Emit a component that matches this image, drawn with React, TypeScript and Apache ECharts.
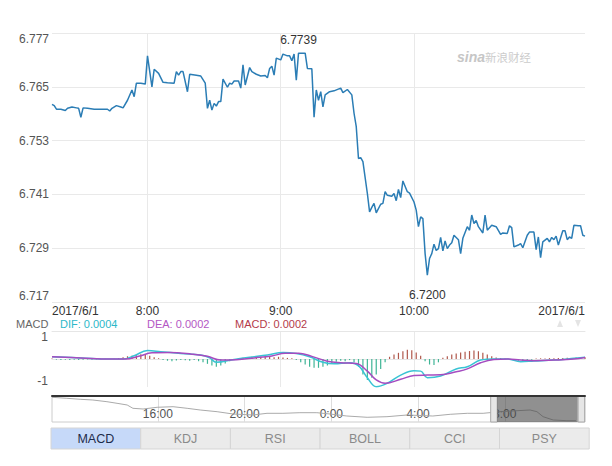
import React, { useEffect, useRef } from "react";
import * as echarts from "echarts";

// ---------- data ----------
const dateLabel = "2017/6/1";
const priceTicks = [6.717, 6.729, 6.741, 6.753, 6.765, 6.777];
const hourTicks = ["8:00", "9:00", "10:00"];
const viewRange = ["7:17", "11:17"];
const extremeLabels = ["6.7739", "6.7200"];

const priceTimes = [
  "7:17", "7:18", "7:19", "7:21", "7:23", "7:24", "7:26", "7:28", "7:29", "7:30",
  "7:31", "7:33", "7:36", "7:39", "7:42", "7:43", "7:44", "7:46", "7:48", "7:49",
  "7:51", "7:53", "7:54", "7:55", "7:57", "7:59", "8:00", "8:02", "8:03", "8:05",
  "8:07", "8:09", "8:12", "8:13", "8:14", "8:15", "8:16", "8:18", "8:19", "8:22",
  "8:24", "8:26", "8:27", "8:28", "8:29", "8:30", "8:31", "8:32", "8:33", "8:34",
  "8:36", "8:37", "8:38", "8:39", "8:41", "8:42", "8:43", "8:44", "8:46", "8:47",
  "8:49", "8:51", "8:53", "8:54", "8:55", "8:56", "8:57", "8:58", "9:00", "9:01",
  "9:03", "9:04", "9:05", "9:06", "9:07", "9:08", "9:11", "9:12", "9:14", "9:15",
  "9:16", "9:17", "9:18", "9:19", "9:20", "9:22", "9:24", "9:27", "9:28", "9:30",
  "9:32", "9:33", "9:34", "9:35", "9:36", "9:37", "9:39", "9:40", "9:41", "9:42",
  "9:43", "9:45", "9:46", "9:47", "9:48", "9:50", "9:51", "9:52", "9:53", "9:54",
  "9:55", "9:57", "9:58", "10:00", "10:01", "10:02", "10:03", "10:04", "10:05", "10:06",
  "10:07", "10:08", "10:09", "10:10", "10:11", "10:12", "10:13", "10:14", "10:15", "10:16",
  "10:17", "10:18", "10:20", "10:21", "10:22", "10:24", "10:25", "10:26", "10:27", "10:28",
  "10:29", "10:31", "10:32", "10:33", "10:35", "10:37", "10:39", "10:40", "10:42", "10:43",
  "10:44", "10:45", "10:47", "10:48", "10:49", "10:51", "10:52", "10:54", "10:55", "10:56",
  "10:57", "10:58", "10:59", "11:00", "11:01", "11:02", "11:03", "11:04", "11:05", "11:07",
  "11:08", "11:09", "11:10", "11:11", "11:12", "11:14", "11:15", "11:16", "11:17",
];
const prices = [
  6.7611, 6.7608, 6.76, 6.76, 6.7597, 6.7602, 6.7605, 6.7603, 6.7602, 6.7582,
  6.7603, 6.7602, 6.76, 6.76, 6.76, 6.7596, 6.7602, 6.7608, 6.7605, 6.7603,
  6.762, 6.7643, 6.7628, 6.7658, 6.7658, 6.7656, 6.7719, 6.765, 6.7689, 6.768,
  6.766, 6.7659, 6.7658, 6.7684, 6.7676, 6.7684, 6.7684, 6.7639, 6.7678, 6.7676,
  6.7674, 6.7658, 6.7602, 6.762, 6.7598, 6.7613, 6.7607, 6.7617, 6.7617, 6.7667,
  6.7649, 6.7658, 6.7656, 6.7663, 6.7663, 6.7647, 6.7699, 6.7654, 6.7693, 6.7684,
  6.7678, 6.7674, 6.7675, 6.767, 6.7691, 6.7696, 6.7676, 6.7714, 6.771, 6.7723,
  6.7719, 6.7719, 6.7708, 6.7723, 6.7665, 6.7725, 6.7725, 6.7691, 6.769, 6.7582,
  6.7643, 6.762, 6.7639, 6.7605, 6.7632, 6.7639, 6.7641, 6.7647, 6.7637, 6.7644,
  6.7632, 6.7591, 6.7561, 6.749, 6.7492, 6.7483, 6.7412, 6.7371, 6.7381, 6.739,
  6.7369, 6.7388, 6.739, 6.7416, 6.7408, 6.7406, 6.7412, 6.7396, 6.7421, 6.7403,
  6.744, 6.7416, 6.7413, 6.7393, 6.7375, 6.7338, 6.736, 6.7356, 6.7278, 6.723,
  6.7267, 6.7278, 6.7299, 6.7285, 6.7289, 6.7314, 6.7284, 6.7306, 6.7289, 6.7297,
  6.7302, 6.7319, 6.7309, 6.7278, 6.7312, 6.7338, 6.733, 6.7364, 6.7345, 6.7352,
  6.7338, 6.7324, 6.7364, 6.733, 6.7341, 6.7338, 6.7321, 6.7324, 6.7323, 6.734,
  6.7336, 6.7293, 6.7297, 6.73, 6.7291, 6.7319, 6.7326, 6.7326, 6.7287, 6.7315,
  6.7269, 6.7304, 6.7308, 6.7312, 6.7304, 6.7314, 6.7309, 6.7317, 6.7297, 6.7329,
  6.7329, 6.7309, 6.7315, 6.7312, 6.7341, 6.734, 6.734, 6.7319, 6.7317,
];

// MACD panel
const legendNames = ["DIF", "DEA", "MACD"];
const legendValues = ["0.0004", "0.0002", "0.0002"];
const macdAxisTicks = [-1, 1];
const macdAxisRange = [-1.27, 1.27];
const histStart = "7:17";
const histStepMinutes = 2;
const macdHist = [
  0.02, -0.03, -0.04, -0.03, -0.04,
  -0.03, -0.04, -0.03, -0.02, -0.03,
  -0.02, -0.01, 0.01, 0.0, 0.01,
  0.05, 0.08, 0.12, 0.15, 0.17,
  0.22, 0.2, 0.15, 0.08, 0.03,
  -0.05, -0.08, -0.1, -0.07, -0.05,
  -0.06, -0.08, -0.05, -0.1, -0.15,
  -0.22, -0.3, -0.35, -0.3, -0.2,
  -0.1, -0.03, 0.03, 0.06, 0.08,
  0.1, 0.08, 0.1, 0.12, 0.1,
  0.08, 0.1, 0.07, 0.05, 0.03,
  -0.05, -0.15, -0.25, -0.35, -0.4,
  -0.4, -0.35, -0.3, -0.2, -0.12,
  -0.08, -0.1, -0.05, -0.15, -0.35,
  -0.7, -0.95, -0.85, -0.7, -0.45,
  -0.15, 0.1, 0.2, 0.28, 0.35,
  0.42, 0.4, 0.3, 0.15, -0.1,
  -0.25, -0.27, -0.15, 0.06, 0.12,
  0.2, 0.25, 0.3, 0.33, 0.36,
  0.38, 0.35, 0.28, 0.2, 0.12,
  0.07, 0.04, 0.02, -0.02, -0.05,
  -0.08, -0.1, -0.06, -0.03, 0.02,
  0.03, 0.02, 0.04, 0.03, 0.05,
  0.04, 0.06, 0.05, 0.07, 0.06,
  0.08,
];
const difTimes = [
  "7:17", "7:30", "7:43", "7:49", "7:54", "8:00", "8:06", "8:15", "8:24", "8:28",
  "8:31", "8:39", "8:46", "8:54", "9:01", "9:07", "9:13", "9:19", "9:24", "9:31",
  "9:35", "9:39", "9:43", "9:48", "9:54", "10:00", "10:03", "10:06", "10:12", "10:19",
  "10:24", "10:30", "10:36", "10:42", "10:48", "10:54", "11:03", "11:12", "11:17",
];
const difValues = [
  0.1, 0.05, 0.0, 0.0, 0.15, 0.38, 0.33, 0.25, 0.18, 0.05,
  -0.15, -0.02, 0.08, 0.18, 0.3, 0.25, 0.1, -0.15, -0.22, -0.17,
  -0.3, -0.85, -1.26, -1.1, -0.73, -0.53, -0.55, -0.85, -0.77, -0.45,
  -0.35, -0.05, 0.0, 0.0, -0.12, -0.09, -0.05, 0.03, 0.08,
];
const deaTimes = [
  "7:17", "7:30", "7:43", "7:50", "7:56", "8:02", "8:10", "8:20", "8:27", "8:33",
  "8:40", "8:48", "8:56", "9:02", "9:08", "9:14", "9:21", "9:27", "9:34", "9:39",
  "9:43", "9:47", "9:54", "10:00", "10:06", "10:12", "10:19", "10:24", "10:30", "10:36",
  "10:42", "10:48", "10:54", "11:03", "11:12", "11:17",
];
const deaValues = [
  0.1, 0.05, 0.0, 0.0, 0.12, 0.28, 0.3, 0.22, 0.12, -0.05,
  -0.03, 0.05, 0.14, 0.26, 0.26, 0.12, -0.1, -0.17, -0.2, -0.55,
  -0.95, -1.1, -0.92, -0.75, -0.73, -0.72, -0.58, -0.45, -0.17, -0.02,
  0.0, -0.05, -0.08, -0.05, 0.0, 0.07,
];

// overview slider (last 24h)
const sliderRange = ["5/31 11:07", "6/1 11:42"];
const sliderTicks = ["5/31 16:00", "5/31 20:00", "6/1 0:00", "6/1 4:00", "6/1 8:00"];
const sliderWindow = ["6/1 7:39", "6/1 11:22"];
const sliderTimes = [
  "5/31 11:07", "5/31 11:48", "5/31 12:25", "5/31 13:00", "5/31 13:39", "5/31 14:07",
  "5/31 14:35", "5/31 14:51", "5/31 15:19", "5/31 15:58", "5/31 16:42", "5/31 17:21",
  "5/31 17:57", "5/31 18:44", "5/31 19:28", "5/31 20:23", "5/31 21:02", "5/31 21:46",
  "5/31 22:33", "5/31 23:20", "5/31 23:56", "6/1 0:43", "6/1 1:39", "6/1 2:34",
  "6/1 3:30", "6/1 4:41", "6/1 5:29", "6/1 6:16", "6/1 7:00", "6/1 7:47",
  "6/1 8:34", "6/1 9:10", "6/1 9:29", "6/1 9:46", "6/1 10:14", "6/1 10:52", "6/1 11:17",
];
const sliderPrices = [
  6.8198, 6.8157, 6.8117, 6.8088, 6.802, 6.7955,
  6.7887, 6.7753, 6.7725, 6.7794, 6.7818, 6.7753,
  6.7685, 6.7616, 6.7523, 6.7483, 6.7551, 6.7551,
  6.7576, 6.7576, 6.7523, 6.7442, 6.739, 6.7414,
  6.7483, 6.7442, 6.7511, 6.7551, 6.7551, 6.7616,
  6.7656, 6.7685, 6.7616, 6.7414, 6.7281, 6.7253, 6.7253,
];
const sliderPriceRange = [6.72, 6.825];

const tabs = ["MACD", "KDJ", "RSI", "BOLL", "CCI", "PSY"];
const activeTab = 0;

// ---------- helpers ----------
const toMin = (t: string) => {
  const [h, m] = t.split(":").map(Number);
  return h * 60 + m;
};
const dayMin = (s: string) => {
  const [d, t] = s.split(" ");
  return (d === "6/1" ? 1440 : 0) + toMin(t);
};

const FONT = '"Liberation Sans", Arial, sans-serif';

export default function App() {
  const ref = useRef<HTMLDivElement>(null);

  useEffect(() => {
    document.body.style.margin = "0";
    const chart = echarts.init(ref.current!, null, { renderer: "svg" });

    const base = priceTicks[0];
    const step = Number((priceTicks[1] - priceTicks[0]).toFixed(4));
    const span = Number((priceTicks[priceTicks.length - 1] - base).toFixed(4));
    const viewMin = toMin(viewRange[0]);
    const viewMax = toMin(viewRange[1]);
    const hourMins = hourTicks.map(toMin);
    const hourLabel = (v: number) => {
      const i = hourMins.indexOf(v);
      return i >= 0 ? hourTicks[i] : "";
    };

    const priceData = priceTimes.map((t, i) => [toMin(t), Number((prices[i] - base).toFixed(5))]);
    const histStartMin = toMin(histStart);
    const histData = macdHist.map((v, i) => [histStartMin + i * histStepMinutes, v]);
    const difData = difTimes.map((t, i) => [toMin(t), difValues[i]]);
    const deaData = deaTimes.map((t, i) => [toMin(t), deaValues[i]]);

    const sMin = dayMin(sliderRange[0]);
    const sMax = dayMin(sliderRange[1]);
    const sTicks = sliderTicks.map(dayMin);
    const sliderData = sliderTimes.map((t, i) => [dayMin(t), sliderPrices[i]]);
    const winL = dayMin(sliderWindow[0]);
    const winR = dayMin(sliderWindow[1]);
    const handleW = 18;

    const legendColors = ["#2cb8c9", "#b457c4", "#b43a4a"];
    const legendX = [60, 147, 235];
    const tabW = 89.7;
    const legendY = 323.5;

    const graphic: any[] = [
      {
        type: "text",
        x: 457,
        y: 57,
        style: { text: "sina", fill: "#c6c6c6", font: `italic bold 14px ${FONT}`, verticalAlign: "middle" },
      },
      {
        type: "text",
        x: 485,
        y: 57,
        style: { text: "新浪财经", fill: "#cccccc", font: '11.5px "Noto Sans CJK SC", sans-serif', verticalAlign: "middle" },
      },
      {
        type: "text",
        x: 16,
        y: legendY,
        style: { text: "MACD", fill: "#666", font: `11px ${FONT}`, verticalAlign: "middle" },
      },
      ...legendNames.map((n, i) => ({
        type: "text",
        x: legendX[i],
        y: legendY,
        style: {
          text: `${n}: ${legendValues[i]}`,
          fill: legendColors[i],
          font: `11px ${FONT}`,
          verticalAlign: "middle",
        },
      })),
      {
        type: "polygon",
        shape: { points: [[557, 327], [563, 327], [560, 320]] },
        style: { fill: "#e4e4e4" },
      },
      {
        type: "polygon",
        shape: { points: [[575, 320], [581, 320], [578, 327]] },
        style: { fill: "#e4e4e4" },
      },
      ...tabs.map((t, i) => ({
        type: "group",
        x: 51 + i * tabW,
        y: 428,
        children: [
          {
            type: "rect",
            shape: { x: 0, y: 0, width: tabW, height: 21 },
            style: {
              fill: i === activeTab ? "#c6d9f9" : "#ebebeb",
              stroke: "#d5d5d5",
              lineWidth: 1,
            },
          },
          {
            type: "text",
            style: {
              text: t,
              x: tabW / 2,
              y: 11,
              align: "center",
              verticalAlign: "middle",
              fill: i === activeTab ? "#1d2b4a" : "#8a8a8a",
              font: `12.5px ${FONT}`,
            },
          },
        ],
      })),
    ];

    const option: any = {
      animation: false,
      backgroundColor: "#ffffff",
      textStyle: { fontFamily: FONT },
      grid: [
        { left: 52, top: 33, width: 533, height: 269 },
        { left: 52, top: 331, width: 533, height: 56 },
        {
          left: 52,
          top: 396,
          width: 533,
          height: 26,
          show: true,
          borderColor: "#cccccc",
          borderWidth: 1,
          backgroundColor: "#ffffff",
        },
      ],
      xAxis: [
        {
          type: "value",
          gridIndex: 0,
          min: viewMin,
          max: viewMax,
          axisLine: { show: false },
          axisTick: { show: false, customValues: hourMins },
          splitLine: { show: true, lineStyle: { color: "#e9e9e9" } },
          axisLabel: {
            customValues: [viewMin, ...hourMins, viewMax],
            formatter: (v: number) => (v === viewMin || v === viewMax ? dateLabel : hourLabel(v)),
            color: "#333",
            fontSize: 12,
            margin: 3,
            showMinLabel: true,
            showMaxLabel: true,
            alignMinLabel: "left",
            alignMaxLabel: "right",
          },
        },
        {
          type: "value",
          gridIndex: 1,
          min: viewMin,
          max: viewMax,
          axisLine: { show: true, lineStyle: { color: "#e6e6e6" } },
          axisTick: { show: false, customValues: hourMins },
          splitLine: { show: true, lineStyle: { color: "#e9e9e9" } },
          axisLabel: { show: false },
        },
        {
          type: "value",
          gridIndex: 1,
          position: "top",
          min: viewMin,
          max: viewMax,
          axisLine: { show: true, lineStyle: { color: "#e6e6e6" } },
          axisTick: { show: false },
          splitLine: { show: false },
          axisLabel: { show: false },
        },
        {
          type: "value",
          gridIndex: 2,
          min: sMin,
          max: sMax,
          axisLine: { show: false },
          axisTick: { show: false, customValues: sTicks },
          splitLine: { show: true, lineStyle: { color: "#dddddd" } },
          axisLabel: {
            customValues: sTicks,
            inside: true,
            margin: 2,
            color: "#555",
            fontSize: 12,
            formatter: (v: number) => {
              const i = sTicks.indexOf(v);
              return i >= 0 ? sliderTicks[i].split(" ")[1] : "";
            },
          },
        },
        {
          type: "value",
          gridIndex: 2,
          position: "top",
          min: sMin,
          max: sMax,
          z: 10,
          axisLine: { show: true, lineStyle: { color: "#333", width: 2 } },
          axisTick: { show: false },
          splitLine: { show: false },
          axisLabel: { show: false },
        },
      ],
      yAxis: [
        {
          type: "value",
          gridIndex: 0,
          min: 0,
          max: span,
          interval: step,
          axisLine: { show: false },
          axisTick: { show: false },
          splitLine: { show: true, lineStyle: { color: "#e9e9e9" } },
          axisLabel: {
            formatter: (v: number) => (v + base).toFixed(3),
            color: "#555",
            fontSize: 12,
            margin: 3,
            verticalAlignMinLabel: "bottom",
            verticalAlignMaxLabel: "top",
          },
        },
        {
          type: "value",
          gridIndex: 1,
          min: macdAxisRange[0],
          max: macdAxisRange[1],
          axisLine: { show: false },
          axisTick: { show: false },
          splitLine: { show: false },
          axisLabel: {
            customValues: macdAxisTicks,
            formatter: (v: number) => String(v),
            color: "#555",
            fontSize: 12,
            margin: 4,
          },
        },
        {
          type: "value",
          gridIndex: 2,
          min: sliderPriceRange[0],
          max: sliderPriceRange[1],
          show: false,
          splitLine: { show: false },
        },
      ],
      series: [
        {
          type: "line",
          xAxisIndex: 0,
          yAxisIndex: 0,
          data: priceData,
          showSymbol: false,
          lineStyle: { color: "#2b7db5", width: 1.5 },
          itemStyle: { color: "#2b7db5" },
          markPoint: {
            symbol: "circle",
            symbolSize: 1,
            itemStyle: { color: "rgba(0,0,0,0)" },
            label: { color: "#333", fontSize: 12, fontFamily: FONT },
            data: [
              { type: "max", label: { position: "top", distance: 7, formatter: () => extremeLabels[0] } },
              { type: "min", label: { position: "bottom", distance: 13, formatter: () => extremeLabels[1] } },
            ],
          },
        },
        {
          type: "bar",
          xAxisIndex: 1,
          yAxisIndex: 1,
          data: histData,
          barWidth: 1.2,
          itemStyle: {
            color: (p: any) => (p.value[1] >= 0 ? "#b0584c" : "#3fb596"),
          },
        },
        {
          type: "line",
          xAxisIndex: 1,
          yAxisIndex: 1,
          data: difData,
          smooth: 0.4,
          showSymbol: false,
          lineStyle: { color: "#39c3d4", width: 1.5 },
          itemStyle: { color: "#39c3d4" },
        },
        {
          type: "line",
          xAxisIndex: 1,
          yAxisIndex: 1,
          data: deaData,
          smooth: 0.4,
          showSymbol: false,
          lineStyle: { color: "#a54cc0", width: 1.5 },
          itemStyle: { color: "#a54cc0" },
        },
        {
          type: "line",
          xAxisIndex: 3,
          yAxisIndex: 2,
          data: sliderData,
          showSymbol: false,
          lineStyle: { color: "#aaaaaa", width: 1 },
          itemStyle: { color: "#aaaaaa" },
          markArea: {
            silent: true,
            z: 5,
            data: [
              [
                { xAxis: winL - handleW, itemStyle: { color: "#e6e6e6", borderColor: "#aaaaaa", borderWidth: 1 } },
                { xAxis: winL },
              ],
              [
                { xAxis: winL, itemStyle: { color: "rgba(70,70,70,0.6)" } },
                { xAxis: winR },
              ],
              [
                { xAxis: winR + 1, itemStyle: { color: "#e6e6e6", borderColor: "#aaaaaa", borderWidth: 1 } },
                { xAxis: winR + 1 + handleW },
              ],
            ],
          },
        },
      ],
      graphic,
    };

    chart.setOption(option);
    return () => chart.dispose();
  }, []);

  return (
    <div
      ref={ref}
      style={{ position: "fixed", left: 0, top: 0, width: 612, height: 466, background: "#fff" }}
    />
  );
}
